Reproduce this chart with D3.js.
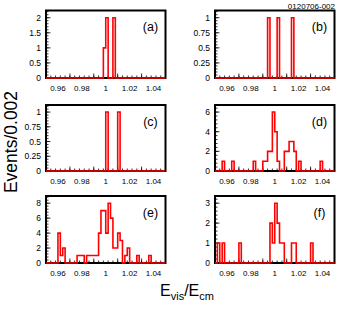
<!DOCTYPE html>
<html><head><meta charset="utf-8">
<script src="https://cdn.jsdelivr.net/npm/d3@7/dist/d3.min.js"></script>
<style>body{margin:0;background:#fff}svg{display:block}</style>
</head><body>
<script>
// 50 bins of width 0.002 from 0.95 to 1.05 ; values listed as [binIndex, count]
const xMin = 0.95, xMax = 1.05, binW = 0.002, nBins = 50;
const xTickLabels = [0.96, 0.98, 1, 1.02, 1.04];
const panelNames = ["(a)", "(b)", "(c)", "(d)", "(e)", "(f)"];
const histA = [[24,1],[25,2],[28,2]];
const histB = [[22,1],[26,1],[32,1]];
const histC = [[25,1],[30,1]];
const histD = [[3,1],[7,1],[16,1],[20,1],[21,1],[22,2],[23,2],[24,6],[25,4],[26,1],[29,2],[30,2],[31,3],[32,3],[33,2],[35,1],[44,1]];
const histE = [[5,4],[6,1],[7,2],[13,1],[14,1],[15,1],[17,1],[18,1],[19,1],[20,1],[21,1],[22,4],[23,7],[24,7],[25,4],[26,8],[27,6],[28,2],[29,2],[30,4],[31,3],[33,1],[34,2],[38,1],[43,1]];
const histF = [[1,1],[3,1],[10,1],[23,2],[24,1],[25,3],[26,2],[27,1],[28,1],[32,1],[33,1],[40,1]];
const yTicksA = [0, 0.5, 1, 1.5, 2];
const yTicksB = [0, 0.25, 0.5, 0.75, 1];
const yTicksC = [0, 0.25, 0.5, 0.75, 1];
const yTicksD = [0, 2, 4, 6];
const yTicksE = [0, 2, 4, 6, 8];
const yTicksF = [0, 1, 2, 3];
const yTitle = "Events/0.002";
const figId = "0120706-002";

const W = 337, H = 310;
const svg = d3.select("body").append("svg").attr("width", W).attr("height", H);
svg.append("rect").attr("width", W).attr("height", H).attr("fill", "#fff");
const font = "Liberation Sans, Arial, Helvetica, sans-serif";

const cols = [{l:46, r:165.5}, {l:215, r:334.5}];
const rows = [{t:10.5, b:78}, {t:105, b:171}, {t:196, b:263}];
const hists = [histA, histB, histC, histD, histE, histF];
const yTicks = [yTicksA, yTicksB, yTicksC, yTicksD, yTicksE, yTicksF];

function dense(h){ const a = new Array(nBins).fill(0); h.forEach(([i,v]) => a[i] = v); return a; }

hists.forEach((h, k) => {
  const c = cols[k % 2], r = rows[Math.floor(k / 2)];
  const vals = dense(h);
  const ymax = d3.max(vals) * 1.12;
  const x = d3.scaleLinear().domain([xMin, xMax]).range([c.l, c.r]);
  const y = d3.scaleLinear().domain([0, ymax]).range([r.b, r.t]);
  const g = svg.append("g");
  // frame
  g.append("rect").attr("x", c.l).attr("y", r.t).attr("width", c.r - c.l).attr("height", r.b - r.t)
    .attr("fill", "none").attr("stroke", "#000").attr("stroke-width", 2);
  // x ticks (inside, up)
  const xMajor = d3.range(0, 6).map(i => 0.95 + i * 0.02);
  const xMinor = d3.range(0, 26).map(i => 0.95 + i * 0.004);
  g.selectAll(null).data(xMinor).enter().append("line")
    .attr("x1", d => x(d)).attr("x2", d => x(d)).attr("y1", r.b).attr("y2", r.b - 2.5)
    .attr("stroke", "#000").attr("stroke-width", 0.8);
  g.selectAll(null).data(xMajor).enter().append("line")
    .attr("x1", d => x(d)).attr("x2", d => x(d)).attr("y1", r.b).attr("y2", r.b - 4.5)
    .attr("stroke", "#000").attr("stroke-width", 0.8);
  g.selectAll(null).data(xTickLabels).enter().append("text")
    .attr("x", d => x(d)).attr("y", r.b + 13).attr("text-anchor", "middle")
    .attr("font-family", font).attr("font-size", 8).text(d => String(d));
  // y ticks
  const yt = yTicks[k];
  const ystep = yt[1] - yt[0];
  const yMinor = d3.range(0, Math.floor(ymax / (ystep / 5) + 1e-6) + 1).map(i => i * ystep / 5);
  g.selectAll(null).data(yMinor).enter().append("line")
    .attr("x1", c.l).attr("x2", c.l + 2.5).attr("y1", d => y(d)).attr("y2", d => y(d))
    .attr("stroke", "#000").attr("stroke-width", 0.8);
  g.selectAll(null).data(yt).enter().append("line")
    .attr("x1", c.l).attr("x2", c.l + 4.5).attr("y1", d => y(d)).attr("y2", d => y(d))
    .attr("stroke", "#000").attr("stroke-width", 0.8);
  g.selectAll(null).data(yt).enter().append("text")
    .attr("x", c.l - 5).attr("y", d => y(d) + 3).attr("text-anchor", "end")
    .attr("font-family", font).attr("font-size", 8.5).text(d => String(d));
  // histogram step
  const pts = [[xMin, 0]];
  vals.forEach((v, i) => { const x0 = xMin + i * binW; pts.push([x0, v], [x0 + binW, v]); });
  pts.push([xMax, 0]);
  const line = d3.line().x(d => x(d[0])).y(d => y(d[1]));
  g.append("path").attr("d", line(pts)).attr("fill", "none").attr("stroke", "#ff0000")
    .attr("stroke-width", 1.6).attr("stroke-linejoin", "miter");
  // panel label
  g.append("text").attr("x", c.r - 15).attr("y", r.t + 20.5).attr("text-anchor", "middle")
    .attr("font-family", font).attr("font-size", 12.5).text(panelNames[k]);
});

svg.append("text").attr("x", 335).attr("y", 9).attr("text-anchor", "end")
  .attr("font-family", font).attr("font-size", 8).text(figId);
svg.append("text").attr("transform", "translate(17,142) rotate(-90)").attr("text-anchor", "middle")
  .attr("font-family", font).attr("font-size", 17.5).text(yTitle);
const xt = svg.append("text").attr("x", 187).attr("y", 296).attr("text-anchor", "middle")
  .attr("font-family", font).attr("font-size", 16);
xt.append("tspan").text("E");
xt.append("tspan").attr("font-size", 11).attr("dy", 4).text("vis");
xt.append("tspan").attr("dy", -4).text("/E");
xt.append("tspan").attr("font-size", 11).attr("dy", 4).text("cm");
</script>
</body></html>
